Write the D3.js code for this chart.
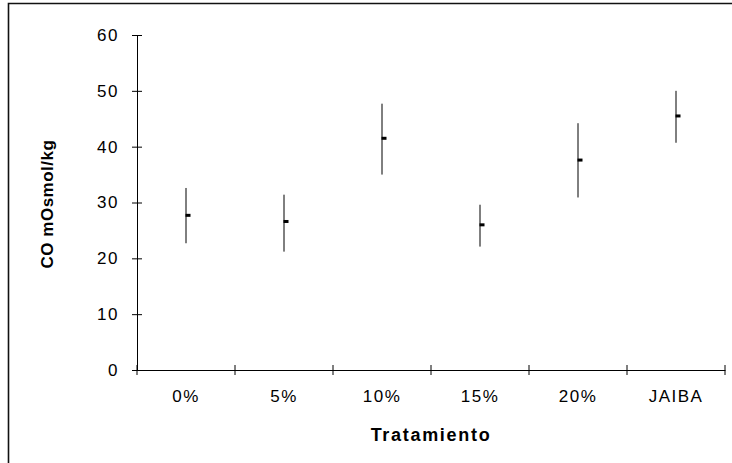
<!DOCTYPE html>
<html>
<head>
<meta charset="utf-8">
<script src="https://cdn.jsdelivr.net/npm/d3@7"></script>
<style>
  html, body { margin: 0; padding: 0; background: #fff; }
  svg { display: block; font-family: "Liberation Sans", Arial, sans-serif; }
</style>
</head>
<body>
<svg id="chart" width="732" height="463"></svg>
<script>
// Treatments and osmolality readings (mean with upper/lower range)
const categories = ["0%", "5%", "10%", "15%", "20%", "JAIBA"];
const means = [27.7, 26.6, 41.5, 26.0, 37.6, 45.5];
const upper = [32.6, 31.4, 47.7, 29.6, 44.2, 50.0];
const lower = [22.7, 21.2, 35.0, 22.1, 30.9, 40.7];
const yTicks = [0, 10, 20, 30, 40, 50, 60];

const rows = categories.map((c, i) => ({ c, mean: means[i], hi: upper[i], lo: lower[i] }));

const svg = d3.select("#chart");
const plotLeft = 137, plotRight = 725, plotTop = 35, plotBottom = 370;

const x = d3.scaleBand().domain(categories).range([plotLeft, plotRight]).padding(0);
const y = d3.scaleLinear().domain([0, 60]).range([plotBottom, plotTop]);

// outer frame (left and top edges)
svg.append("path")
  .attr("d", "M8.5,463 V3.5 H732")
  .attr("fill", "none")
  .attr("stroke", "#111")
  .attr("stroke-width", 1.6);

// y axis
const gy = svg.append("g")
  .attr("transform", `translate(${plotLeft},0)`)
  .call(d3.axisLeft(y).tickValues(yTicks).tickSize(5).tickSizeOuter(0).tickPadding(13));
gy.selectAll(".tick line").attr("x1", -5).attr("x2", 5).attr("stroke", "#000");
gy.select(".domain").attr("stroke", "#000");
gy.selectAll(".tick text")
  .attr("font-size", 17)
  .attr("letter-spacing", 1.5)
  .attr("fill", "#000")
  .attr("font-family", "Liberation Sans, Arial, sans-serif");

// x axis with ticks on category boundaries
const gx = svg.append("g")
  .attr("transform", `translate(0,${plotBottom})`)
  .call(d3.axisBottom(x).tickSize(0).tickSizeOuter(0).tickPadding(20));
gx.select(".domain").attr("stroke", "#000");
gx.selectAll(".tick text")
  .attr("font-size", 17)
  .attr("letter-spacing", 1.5)
  .attr("fill", "#000")
  .attr("font-family", "Liberation Sans, Arial, sans-serif");
const bounds = categories.map(c => x(c)).concat([x(categories[categories.length - 1]) + x.bandwidth()]);
gx.selectAll(".bound")
  .data(bounds)
  .join("line")
  .attr("class", "bound")
  .attr("x1", d => d).attr("x2", d => d)
  .attr("y1", -5).attr("y2", 5)
  .attr("stroke", "#000");

// range lines
const cx = d => x(d.c) + x.bandwidth() / 2;
svg.append("g").selectAll("line")
  .data(rows)
  .join("line")
  .attr("x1", cx).attr("x2", cx)
  .attr("y1", d => y(d.hi)).attr("y2", d => y(d.lo))
  .attr("stroke", "#000")
  .attr("stroke-width", 1);

// mean markers
svg.append("g").selectAll("rect")
  .data(rows)
  .join("rect")
  .attr("x", d => cx(d) - 0.5)
  .attr("y", d => y(d.mean) - 1.5)
  .attr("width", 5)
  .attr("height", 3)
  .attr("fill", "#000");

// axis titles
svg.append("text")
  .attr("x", (plotLeft + plotRight) / 2)
  .attr("y", 441)
  .attr("text-anchor", "middle")
  .attr("font-size", 18)
  .attr("font-weight", "bold")
  .attr("letter-spacing", 1.7)
  .text("Tratamiento");

svg.append("text")
  .attr("transform", "translate(53,204) rotate(-90)")
  .attr("text-anchor", "middle")
  .attr("font-size", 17)
  .attr("font-weight", "bold")
  .attr("letter-spacing", 0.5)
  .text("CO mOsmol/kg");
</script>
</body>
</html>
